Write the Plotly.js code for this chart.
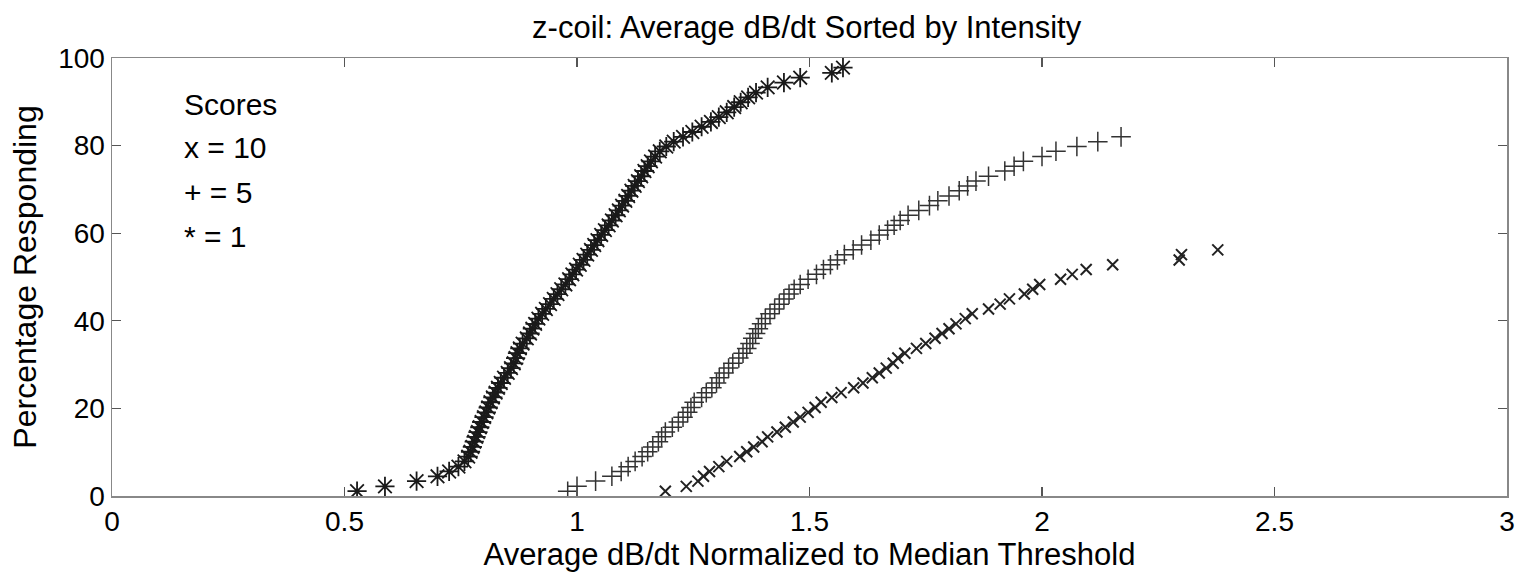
<!DOCTYPE html>
<html>
<head>
<meta charset="utf-8">
<script src="https://cdn.plot.ly/plotly-3.0.1.min.js"></script>
<style>html,body{margin:0;padding:0;background:#fff;}#chart{width:1522px;height:575px;}</style>
</head>
<body>
<div id="chart"></div>
<script>
// Score 1 (asterisk)
const starX = [0.527,0.587,0.655,0.700,0.725,0.745,0.758,0.766,0.771,0.775,0.779,0.783,0.787,0.791,0.795,0.800,0.805,0.809,0.814,0.819,0.825,0.830,0.836,0.843,0.851,0.858,0.864,0.868,0.872,0.877,0.883,0.892,0.899,0.904,0.910,0.917,0.925,0.933,0.942,0.950,0.958,0.966,0.975,0.983,0.990,0.998,1.006,1.014,1.022,1.030,1.037,1.044,1.052,1.060,1.068,1.075,1.083,1.090,1.097,1.104,1.110,1.117,1.124,1.131,1.138,1.145,1.152,1.159,1.168,1.178,1.192,1.208,1.228,1.248,1.268,1.288,1.305,1.322,1.338,1.352,1.368,1.385,1.410,1.445,1.480,1.548,1.572];
const starY = [1.1,2.2,3.4,4.5,5.6,6.7,7.9,9.0,10.1,11.2,12.4,13.5,14.6,15.7,16.9,18.0,19.1,20.2,21.4,22.5,23.6,24.7,25.8,27.0,28.1,29.2,30.3,31.5,32.6,33.7,34.8,36.0,37.1,38.2,39.3,40.5,41.6,42.7,43.8,45.0,46.1,47.2,48.3,49.5,50.6,51.7,52.8,53.9,55.1,56.2,57.3,58.4,59.6,60.7,61.8,62.9,64.1,65.2,66.3,67.4,68.5,69.7,70.8,71.9,73.0,74.2,75.3,76.4,77.5,78.7,79.8,80.9,82.0,83.1,84.3,85.4,86.5,87.6,88.8,89.9,91.0,92.1,93.3,94.4,95.5,96.6,97.8];

// Score 5 (plus)
const plusX = [0.980,1.000,1.040,1.075,1.095,1.110,1.125,1.140,1.152,1.163,1.175,1.182,1.190,1.205,1.218,1.228,1.238,1.245,1.252,1.268,1.278,1.290,1.300,1.306,1.316,1.326,1.335,1.348,1.357,1.365,1.372,1.378,1.384,1.390,1.397,1.405,1.415,1.425,1.435,1.445,1.456,1.467,1.480,1.497,1.515,1.530,1.545,1.560,1.575,1.594,1.612,1.632,1.650,1.668,1.682,1.695,1.712,1.735,1.758,1.776,1.800,1.822,1.840,1.858,1.885,1.920,1.940,1.960,2.000,2.030,2.075,2.120,2.170];
const plusY = [1.1,2.2,3.4,4.5,5.6,6.7,7.9,9.0,10.1,11.2,12.4,13.5,14.6,15.7,16.9,18.0,19.1,20.2,21.4,22.5,23.6,24.7,25.8,27.0,28.1,29.2,30.3,31.5,32.6,33.7,34.8,36.0,37.1,38.2,39.3,40.5,41.6,42.7,43.8,45.0,46.1,47.2,48.3,49.5,50.6,51.7,52.8,53.9,55.1,56.2,57.3,58.4,59.6,60.7,61.8,62.9,64.1,65.2,66.3,67.4,68.5,69.7,70.8,71.9,73.0,74.2,75.3,76.4,77.5,78.7,79.8,80.9,82.0];

// Score 10 (x)
const xmarkX = [1.190,1.235,1.260,1.272,1.285,1.305,1.322,1.350,1.365,1.380,1.398,1.410,1.430,1.448,1.465,1.480,1.497,1.512,1.525,1.548,1.568,1.595,1.615,1.635,1.650,1.665,1.680,1.690,1.705,1.730,1.750,1.770,1.785,1.800,1.815,1.835,1.850,1.885,1.910,1.930,1.962,1.980,1.995,2.040,2.065,2.095,2.152,2.295,2.300,2.378];
const xmarkY = [1.1,2.2,3.4,4.5,5.6,6.7,7.9,9.0,10.1,11.2,12.4,13.5,14.6,15.7,16.9,18.0,19.1,20.2,21.4,22.5,23.6,24.7,25.8,27.0,28.1,29.2,30.3,31.5,32.6,33.7,34.8,36.0,37.1,38.2,39.3,40.5,41.6,42.7,43.8,45.0,46.1,47.2,48.3,49.5,50.6,51.7,52.8,53.9,55.1,56.2];

const xTickVals = [0,0.5,1,1.5,2,2.5,3];
const xTickText = ['0','0.5','1','1.5','2','2.5','3'];
const yTickVals = [0,20,40,60,80,100];
const yTickText = ['0','20','40','60','80','100'];

const legendLines = ['Scores','x = 10','+ = 5','* = 1'];
const legendY = [89.3,79.5,69.2,59.3];

const FONT = 'Liberation Sans, Arial, sans-serif';

const traces = [
  {x: starX, y: starY, mode: 'markers', type: 'scatter',
   marker: {symbol: 'asterisk-open', size: 16, color: '#1a1a1a', line: {color: '#1a1a1a', width: 1.8}}},
  {x: plusX, y: plusY, mode: 'markers', type: 'scatter',
   marker: {symbol: 'cross-thin-open', size: 14, color: '#333', line: {color: '#333', width: 1.5}}},
  {x: xmarkX, y: xmarkY, mode: 'markers', type: 'scatter',
   marker: {symbol: 'x-thin-open', size: 11, color: '#222', line: {color: '#222', width: 2}}}
];

const annotations = legendLines.map((t, i) => ({
  x: 0.15, y: legendY[i], xref: 'x', yref: 'y', text: t, showarrow: false,
  xanchor: 'left', yanchor: 'middle', font: {family: FONT, size: 30, color: '#000'}
}));

const layout = {
  width: 1522, height: 575,
  margin: {l: 112, r: 15, t: 58, b: 79},
  paper_bgcolor: '#fff', plot_bgcolor: '#fff',
  showlegend: false,
  title: {text: 'z-coil: Average dB/dt Sorted by Intensity', x: 0.53, xanchor: 'center', y: 0.952, yanchor: 'middle',
          font: {family: FONT, size: 31, color: '#000'}},
  xaxis: {range: [0, 3], tickvals: xTickVals, ticktext: xTickText, ticks: 'inside', ticklen: 9,
          tickcolor: '#555', tickwidth: 1.3, showline: true, linecolor: '#888', linewidth: 1.5, mirror: 'ticks',
          showgrid: false, zeroline: false, tickfont: {family: FONT, size: 28, color: '#000'},
          title: {text: 'Average dB/dt Normalized to Median Threshold', standoff: 2, font: {family: FONT, size: 31, color: '#000'}}},
  yaxis: {range: [0, 100], tickvals: yTickVals, ticktext: yTickText, ticks: 'inside', ticklen: 9,
          tickcolor: '#555', tickwidth: 1.3, showline: true, linecolor: '#888', linewidth: 1.5, mirror: 'ticks',
          showgrid: false, zeroline: false, tickfont: {family: FONT, size: 28, color: '#000'},
          title: {text: 'Percentage Responding', standoff: 12, font: {family: FONT, size: 32, color: '#000'}}},
  annotations: annotations
};

Plotly.newPlot('chart', traces, layout, {displayModeBar: false, staticPlot: true});
</script>
</body>
</html>
